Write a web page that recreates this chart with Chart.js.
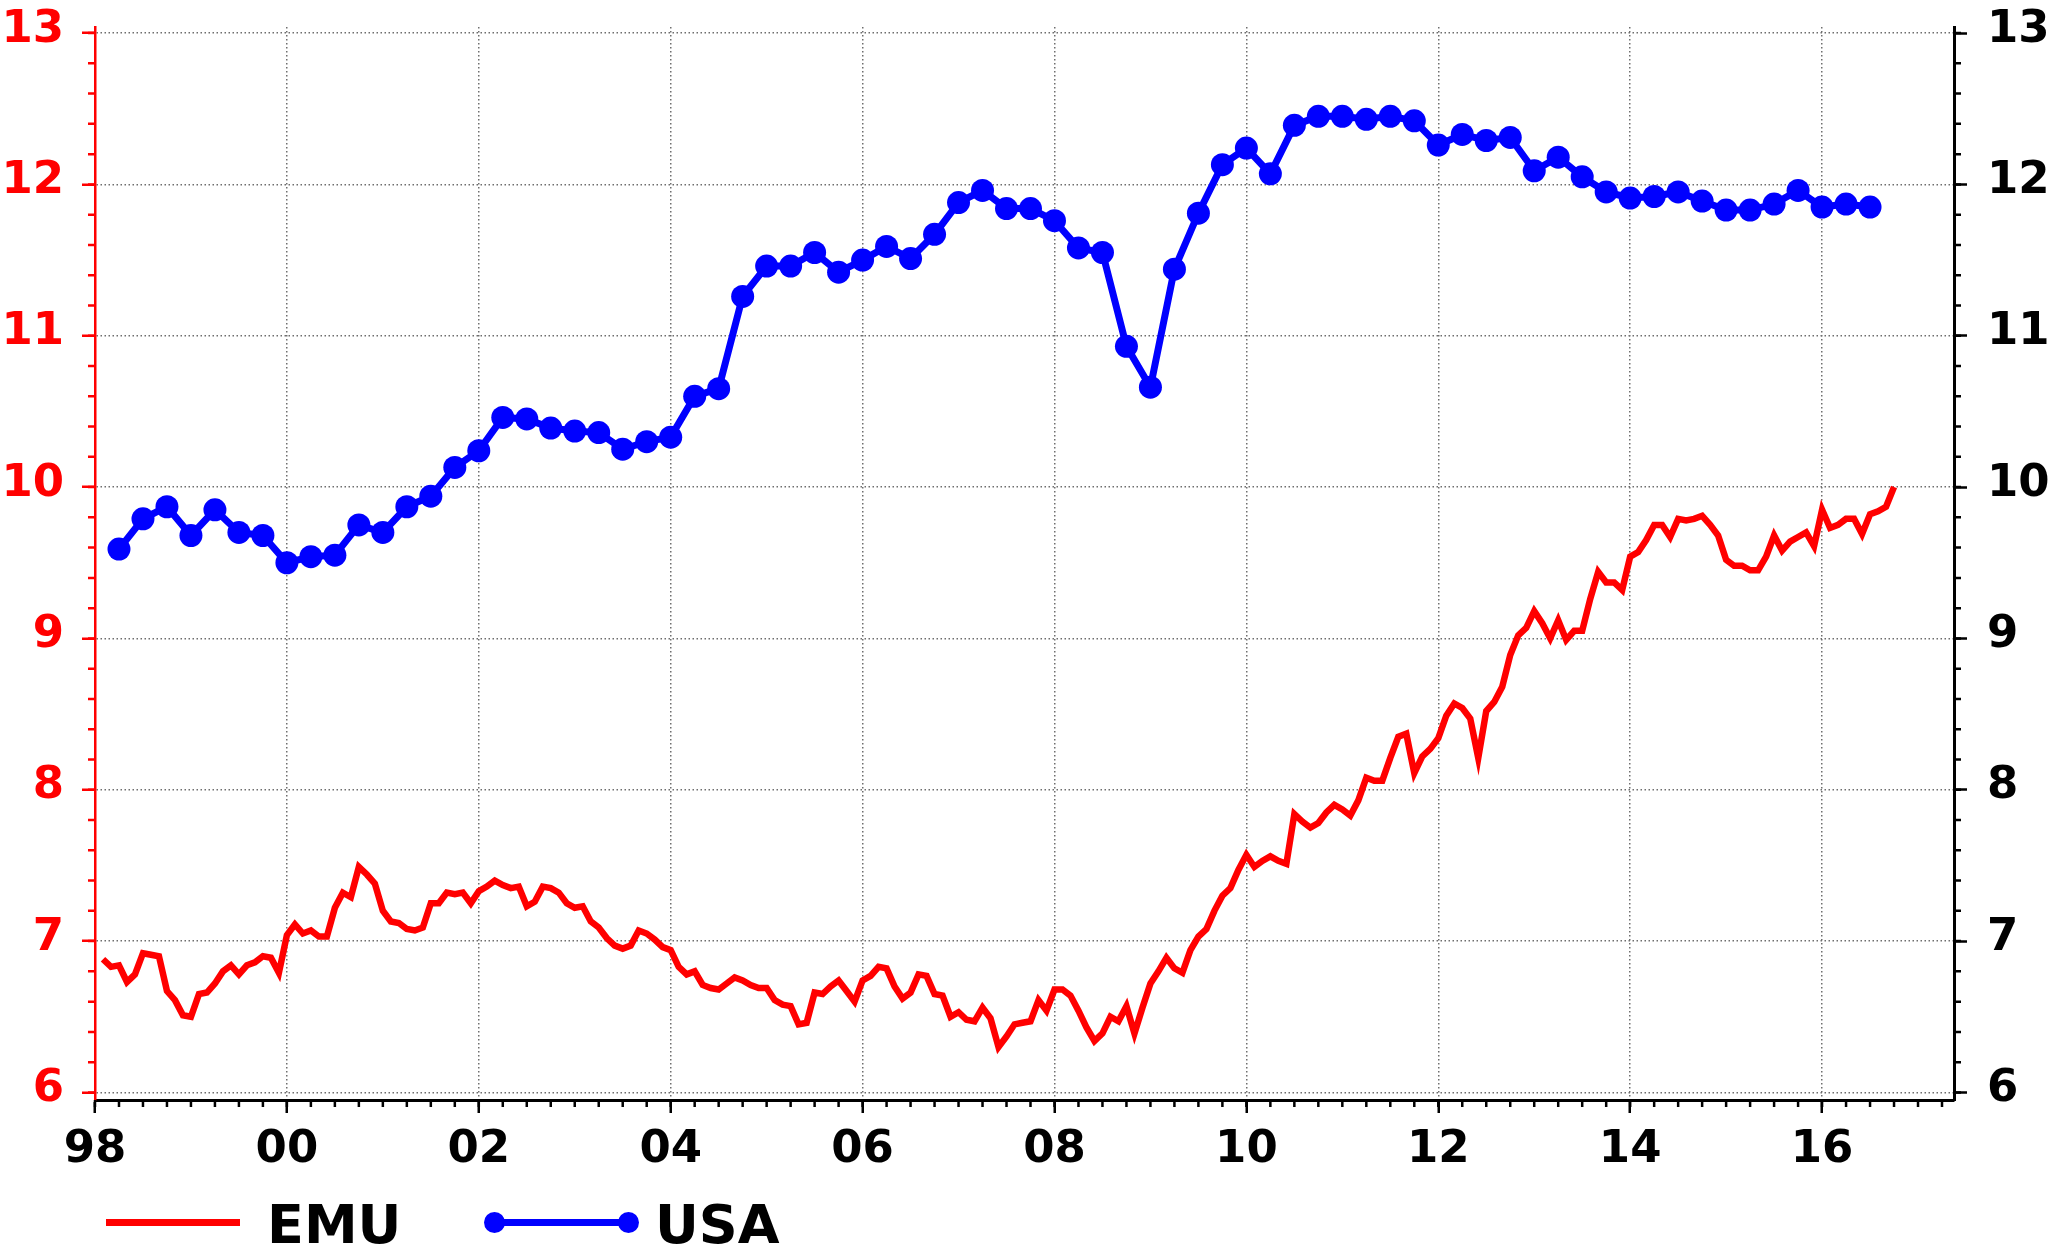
<!DOCTYPE html>
<html>
<head>
<meta charset="utf-8">
<script src="https://cdn.jsdelivr.net/npm/chart.js@4.4.1/dist/chart.umd.min.js"></script>
<style>
  html, body { margin: 0; padding: 0; background: #fff; }
  #wrap { position: relative; width: 2049px; height: 1245px; overflow: hidden; }
  #chart { position: absolute; left: 0; top: 0; }
  .key { position: absolute; height: 7px; top: 1219px; }
  .key.emu { left: 106px; width: 134px; background: #ff0000; }
  .key.usa { left: 494px; width: 135px; background: #0000ff; }
  .key.usa i { position: absolute; top: -7px; width: 21px; height: 21px; border-radius: 50%; background: #0000ff; }
  .key.usa i:first-child { left: -10px; }
  .key.usa i:last-child { right: -10px; }
  .lbl { position: absolute; top: 1198px; font: bold 54px/54px "DejaVu Sans", sans-serif; color: #000; white-space: nowrap; }
</style>
</head>
<body>
<div id="wrap">
  <canvas id="chart" width="2049" height="1245"></canvas>
  <div class="key emu"></div><span class="lbl" style="left:267px">EMU</span>
  <div class="key usa"><i></i><i></i></div><span class="lbl" style="left:655px">USA</span>
</div>
<script>
// EMU, monthly, Feb 1998 .. Oct 2016
const emuStart = 1998 + 1 / 12;
const emuMonthly = [
  6.88, 6.83, 6.84, 6.73, 6.78, 6.92, 6.91, 6.90, 6.67, 6.61, 6.51,        // 1998 (Feb-Dec)
  6.50, 6.65, 6.66, 6.72, 6.80, 6.84, 6.78, 6.84, 6.86, 6.90, 6.89, 6.79,  // 1999
  7.04, 7.11, 7.05, 7.07, 7.03, 7.03, 7.22, 7.32, 7.29, 7.49, 7.44, 7.38,  // 2000
  7.20, 7.13, 7.12, 7.08, 7.07, 7.09, 7.25, 7.25, 7.32, 7.31, 7.32, 7.25,  // 2001
  7.33, 7.36, 7.40, 7.37, 7.35, 7.36, 7.23, 7.26, 7.36, 7.35, 7.32, 7.25,  // 2002
  7.22, 7.23, 7.13, 7.09, 7.02, 6.97, 6.95, 6.97, 7.07, 7.05, 7.01, 6.96,  // 2003
  6.94, 6.83, 6.78, 6.80, 6.71, 6.69, 6.68, 6.72, 6.76, 6.74, 6.71, 6.69,  // 2004
  6.69, 6.61, 6.58, 6.57, 6.45, 6.46, 6.66, 6.65, 6.70, 6.74, 6.67, 6.60,  // 2005
  6.74, 6.77, 6.83, 6.82, 6.70, 6.62, 6.66, 6.78, 6.77, 6.65, 6.64, 6.50,  // 2006
  6.53, 6.48, 6.47, 6.56, 6.49, 6.30, 6.37, 6.45, 6.46, 6.47, 6.61, 6.54,  // 2007
  6.68, 6.68, 6.64, 6.54, 6.43, 6.34, 6.39, 6.50, 6.47, 6.57, 6.39, 6.56,  // 2008
  6.72, 6.80, 6.89, 6.82, 6.79, 6.94, 7.03, 7.08, 7.20, 7.30, 7.35, 7.47,  // 2009
  7.57, 7.49, 7.53, 7.56, 7.53, 7.51, 7.84, 7.79, 7.75, 7.78, 7.85, 7.90,  // 2010
  7.87, 7.83, 7.93, 8.08, 8.06, 8.06, 8.21, 8.35, 8.37, 8.11, 8.22, 8.27,  // 2011
  8.34, 8.49, 8.57, 8.54, 8.47, 8.21, 8.52, 8.58, 8.68, 8.89, 9.02, 9.07,  // 2012
  9.18, 9.10, 9.00, 9.12, 8.99, 9.05, 9.05, 9.26, 9.44, 9.37, 9.37, 9.32,  // 2013
  9.54, 9.57, 9.65, 9.75, 9.75, 9.67, 9.79, 9.78, 9.79, 9.81, 9.75, 9.68,  // 2014
  9.52, 9.48, 9.48, 9.45, 9.45, 9.54, 9.68, 9.58, 9.64, 9.67, 9.70, 9.61,  // 2015
  9.85, 9.73, 9.75, 9.79, 9.79, 9.69, 9.82, 9.84, 9.87, 10.00              // 2016 (Jan-Oct)
];

// USA, quarterly, 1998.25 .. 2016.5
const usaStart = 1998.25;
const usaQuarterly = [
  9.59, 9.79, 9.87, 9.68,
  9.85, 9.70, 9.68, 9.50,
  9.54, 9.55, 9.75, 9.70,
  9.87, 9.94, 10.13, 10.24,
  10.46, 10.45, 10.39, 10.37,
  10.36, 10.25, 10.30, 10.33,
  10.60, 10.65, 11.26, 11.46,
  11.46, 11.55, 11.42, 11.50,
  11.59, 11.51, 11.67, 11.88,
  11.96, 11.84, 11.84, 11.76,
  11.58, 11.55, 10.93, 10.66,
  11.44, 11.81, 12.13, 12.24,
  12.07, 12.39, 12.45, 12.45,
  12.43, 12.45, 12.42, 12.26,
  12.33, 12.29, 12.31, 12.09,
  12.18, 12.05, 11.95, 11.91,
  11.92, 11.95, 11.89, 11.83,
  11.83, 11.87, 11.96, 11.85,
  11.87, 11.85
];

const yearTicks = [1998, 2000, 2002, 2004, 2006, 2008, 2010, 2012, 2014, 2016];
const yearTickLabels = ['98', '00', '02', '04', '06', '08', '10', '12', '14', '16'];
const valueTicks = [6, 7, 8, 9, 10, 11, 12, 13];

const emuPoints = emuMonthly.map((v, i) => ({ x: emuStart + i / 12, y: v }));
const usaPoints = usaQuarterly.map((v, i) => ({ x: usaStart + i / 4, y: v }));

const tickFont = { family: 'DejaVu Sans', size: 45, weight: 'bold', lineHeight: 1.2 };
const gridGrey = '#6e6e6e';

// quarter ticks on the time axis, 0.2 ticks on both value axes
const minorTicks = {
  id: 'minorTicks',
  afterDraw(chart) {
    const { ctx, scales } = chart;
    const x = scales.x, yL = scales.y, yR = scales.y2;
    ctx.save();
    ctx.lineWidth = 2.5;
    ctx.strokeStyle = '#000';
    ctx.beginPath();
    for (let q = 0; 1998 + q * 0.25 <= x.max; q++) {
      const px = x.getPixelForValue(1998 + q * 0.25);
      ctx.moveTo(px, x.top);
      ctx.lineTo(px, x.top + 7);
    }
    ctx.stroke();
    const fifths = [];
    for (let k = 0; k <= 35; k++) fifths.push(6 + k * 0.2);
    ctx.strokeStyle = '#ff0000';
    ctx.beginPath();
    fifths.forEach(v => {
      const py = yL.getPixelForValue(v);
      ctx.moveTo(yL.right - 7, py);
      ctx.lineTo(yL.right, py);
    });
    ctx.stroke();
    ctx.strokeStyle = '#000';
    ctx.beginPath();
    fifths.forEach(v => {
      const py = yR.getPixelForValue(v);
      ctx.moveTo(yR.left, py);
      ctx.lineTo(yR.left + 7, py);
    });
    ctx.stroke();
    ctx.restore();
  }
};

// fixed axis sizes so the plot area sits where it does in the original
const fixY = s => { s.width = 95; s.paddingTop = 0; s.paddingBottom = 0; };
const fixX = s => { s.height = 145; s.paddingLeft = 0; s.paddingRight = 0; };

const ctx = document.getElementById('chart').getContext('2d');
const chart = new Chart(ctx, {
  type: 'line',
  data: {
    datasets: [
      {
        label: 'EMU',
        data: emuPoints,
        yAxisID: 'y',
        borderColor: '#ff0000',
        borderWidth: 6.5,
        pointRadius: 0,
        tension: 0
      },
      {
        label: 'USA',
        data: usaPoints,
        yAxisID: 'y2',
        borderColor: '#0000ff',
        backgroundColor: '#0000ff',
        borderWidth: 7,
        pointRadius: 11.5,
        pointBorderWidth: 0,
        pointBackgroundColor: '#0000ff',
        tension: 0
      }
    ]
  },
  options: {
    responsive: false,
    devicePixelRatio: 1,
    animation: false,
    layout: { padding: { top: 27, left: 0, right: 0, bottom: 0 } },
    plugins: {
      legend: { display: false },
      tooltip: { enabled: false }
    },
    scales: {
      x: {
        type: 'linear',
        position: 'bottom',
        min: 1998,
        max: 2017.375,
        afterBuildTicks: s => { s.ticks = yearTicks.map(v => ({ value: v })); },
        afterFit: fixX,
        ticks: {
          autoSkip: false,
          maxRotation: 0,
          padding: 10,
          color: '#000',
          font: tickFont,
          callback: v => yearTickLabels[yearTicks.indexOf(v)]
        },
        grid: {
          color: c => (c.tick && c.tick.value === 1998) ? 'rgba(0,0,0,0)' : gridGrey,
          lineWidth: 1.5,
          tickLength: 13,
          tickWidth: 2.5,
          tickColor: '#000'
        },
        border: { color: '#000', width: 3, dash: [1.5, 2.5] }
      },
      y: {
        type: 'linear',
        position: 'left',
        min: 5.95,
        max: 13.04,
        afterBuildTicks: s => { s.ticks = valueTicks.map(v => ({ value: v })); },
        afterFit: fixY,
        ticks: {
          color: '#ff0000',
          font: tickFont,
          padding: 18,
          labelOffset: -3
        },
        grid: {
          color: gridGrey,
          lineWidth: 1.5,
          tickLength: 13,
          tickWidth: 2.5,
          tickColor: '#ff0000'
        },
        border: { color: '#ff0000', width: 2.5, dash: [1.5, 2.5] }
      },
      y2: {
        type: 'linear',
        position: 'right',
        min: 5.95,
        max: 13.04,
        afterBuildTicks: s => { s.ticks = valueTicks.map(v => ({ value: v })); },
        afterFit: fixY,
        ticks: {
          color: '#000',
          font: tickFont,
          padding: 20,
          labelOffset: -3
        },
        grid: {
          drawOnChartArea: false,
          tickLength: 13,
          tickWidth: 2.5,
          tickColor: '#000'
        },
        border: { color: '#000', width: 3 }
      }
    }
  },
  plugins: [minorTicks]
});
</script>
</body>
</html>
